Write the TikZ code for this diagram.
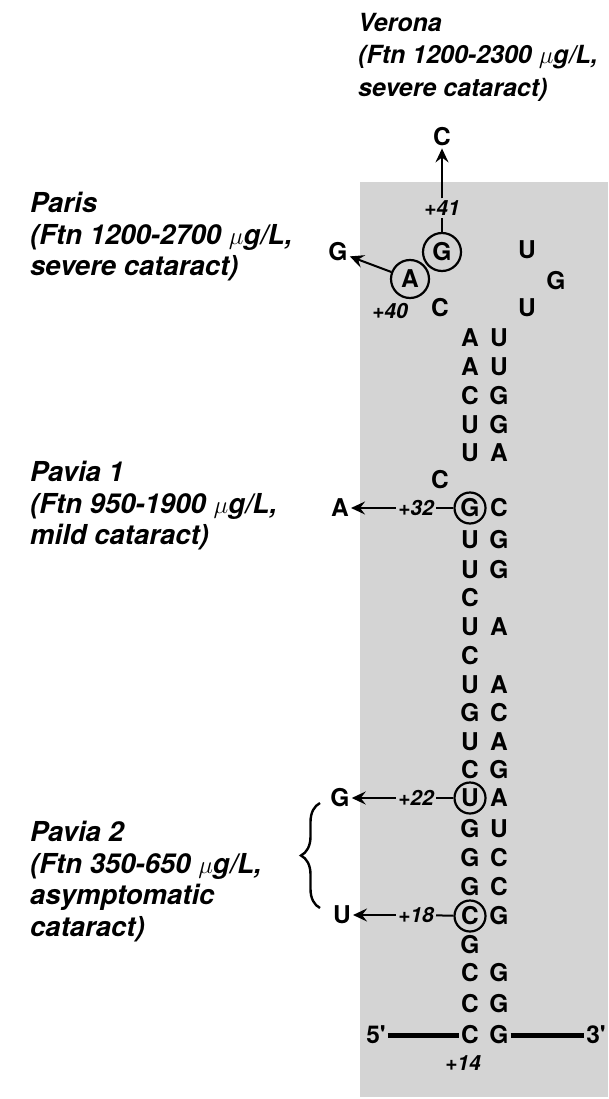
\documentclass[tikz,border=0pt]{standalone}
\usepackage{fontspec}
\setmainfont{TeX Gyre Heros}
\usepackage{xcolor}
\usepackage{tikz}
\usetikzlibrary{arrows.meta, decorations.pathreplacing}
\definecolor{ireShade}{RGB}{212, 212, 212}

\begin{document}
\begin{tikzpicture}[x=1pt, y=-1pt,
    nuc/.style={font=\fontsize{24.5}{24.5}\selectfont\bfseries, inner sep=2pt},
    hit/.style={nuc, draw, circle, line width=2.2pt, inner sep=0pt, minimum size=31pt},
    hitloop/.style={hit, minimum size=38pt},
    posn/.style={font=\fontsize{21}{21}\selectfont\bfseries\itshape, inner sep=2pt},
    strain/.style={font=\fontsize{27.5}{31.5}\selectfont\bfseries\itshape, align=left, inner sep=0pt, anchor=north west},
    tie/.style={line width=2pt},
    mut/.style={line width=2pt, -{Stealth[length=14pt, width=13pt, inset=5pt]}},
    strand/.style={line width=5pt}]
    \useasboundingbox (0,0) rectangle (608,1099);
    \fill[ireShade] (360,182) rectangle (608,1097);

    \node[strain, font=\fontsize{25}{32.5}\selectfont\bfseries\itshape] (verona) at (358,13)
      {Verona\\(Ftn 1200-2300 $\mu$g/L,\\severe cataract)};
    \node[strain] (paris) at (30,192) {Paris\\(Ftn 1200-2700 $\mu$g/L,\\severe cataract)};
    \node[strain] (pavia1) at (30,461) {Pavia 1\\(Ftn 950-1900 $\mu$g/L,\\mild cataract)};
    \node[strain] (pavia2) at (30,821) {Pavia 2\\(Ftn 350-650 $\mu$g/L,\\asymptomatic\\cataract)};

    \foreach \n/\x/\y/\b/\s in {1/470/338/A/nuc, 2/470/367/A/nuc, 3/470/396/C/nuc, 4/470/425/U/nuc,
        5/470/453/U/nuc, 6/440/480/C/nuc, 7/470/508/G/hit, 8/470/540/U/nuc, 9/470/570/U/nuc,
        10/470/598/C/nuc, 11/470/627/U/nuc, 12/470/656/C/nuc, 13/470/685/U/nuc, 14/470/713/G/nuc,
        15/470/742/U/nuc, 16/470/770/C/nuc, 17/470/798/U/hit, 18/470/829/G/nuc, 19/470/858/G/nuc,
        20/470/887/G/nuc, 21/470/916/C/hit, 22/470/945/G/nuc, 23/470/973/C/nuc, 24/470/1004/C/nuc,
        25/470/1035/C/nuc}{
      \node[\s] (L\n) at (\x,\y) {\b};
    }
    \foreach \n/\y/\b in {1/338/U, 2/367/U, 3/396/G, 4/425/G, 5/453/A, 7/508/C, 8/540/G, 9/570/G,
        11/627/A, 13/685/A, 14/713/C, 15/742/A, 16/770/G, 17/798/A, 18/829/U, 19/858/C, 20/887/C,
        21/916/G, 23/973/G, 24/1004/G, 25/1035/G}{
      \node[nuc] (R\n) at (499,\y) {\b};
    }

    \node[nuc] (loopC) at (440,308) {C};
    \node[hitloop] (loopA) at (410,279) {A};
    \node[hitloop] (loopG) at (442,252) {G};
    \node[nuc] (loopU) at (527,250) {U};
    \node[nuc] (loopGr) at (556,281) {G};
    \node[nuc] (loopUr) at (527,308) {U};

    \node[nuc] (mutC) at (442,137) {C};
    \node[nuc] (mutG) at (338,252) {G};
    \node[nuc] (mutA) at (340,508) {A};
    \node[nuc] (mutGb) at (340,798) {G};
    \node[nuc] (mutU) at (342,915) {U};

    \node[posn] (p41) at (442,208) {+41};
    \node[posn] (p40) at (390,311) {+40};
    \node[posn] (p32) at (416,508) {+32};
    \node[posn] (p22) at (416,798) {+22};
    \node[posn] (p18) at (416,915) {+18};
    \node[posn] (p14) at (463,1063) {+14};

    \draw[tie] (loopG) -- (p41);
    \draw[mut] (p41) -- (mutC);
    \draw[mut] (loopA) -- (mutG);
    \draw[tie] (L7) -- (p32);
    \draw[mut] (p32) -- (mutA);
    \draw[tie] (L17) -- (p22);
    \draw[mut] (p22) -- (mutGb);
    \draw[tie] (L21) -- (p18);
    \draw[mut] (p18) -- (mutU);

    \draw[decorate, decoration={brace, amplitude=19pt}, line width=2.4pt] (320,908) -- (320,803);

    \node[nuc] (five) at (376,1035) {5\textquotesingle};
    \node[nuc] (three) at (596,1035) {3\textquotesingle};
    \draw[strand] (five) -- (L25);
    \draw[strand] (R25) -- (three);
  \end{tikzpicture}
\end{document}
